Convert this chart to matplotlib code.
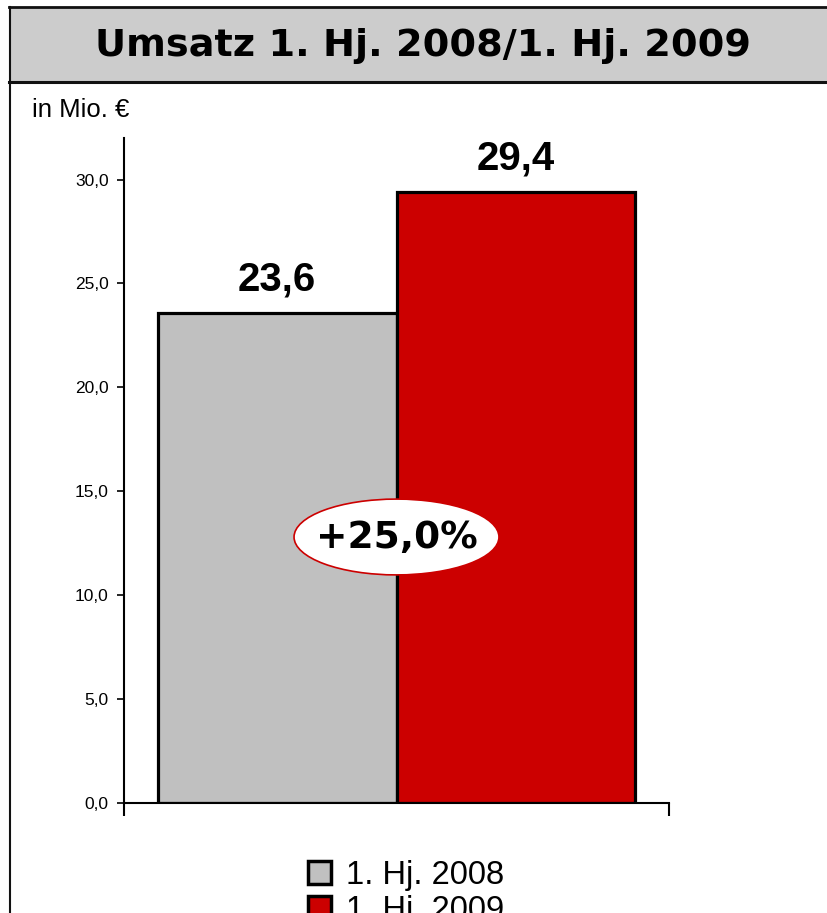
import matplotlib
matplotlib.use('Agg')
import matplotlib.pyplot as plt
from matplotlib.patches import Rectangle, Ellipse
from matplotlib.lines import Line2D
from matplotlib.ticker import FuncFormatter

plt.rcParams['font.family'] = ['Liberation Sans', 'DejaVu Sans']

# data
periods = ['1. Hj. 2008', '1. Hj. 2009']
umsatz = [23.6, 29.4]
colors = ['#C0C0C0', '#CC0000']
yticks = [0, 5, 10, 15, 20, 25, 30]
title = 'Umsatz 1. Hj. 2008/1. Hj. 2009'
unit = 'in Mio. €'
growth = '+25,0%'

W, H = 827, 913
fig = plt.figure(figsize=(W / 100, H / 100), dpi=100)

def fx(px):
    return px / W

def fy(py):
    return 1 - py / H

# title box and frame
fig.patches.append(Rectangle((fx(9), fy(82)), fx(830) - fx(9), fy(7) - fy(82),
                             transform=fig.transFigure, facecolor='#CCCCCC',
                             edgecolor='none', zorder=0))
for y0, lw in [(7, 2.0), (82, 2.2)]:
    fig.lines.append(Line2D([fx(9), 1.0], [fy(y0), fy(y0)], transform=fig.transFigure,
                            color='#111111', linewidth=lw))
fig.lines.append(Line2D([fx(10), fx(10)], [fy(7), 0], transform=fig.transFigure,
                        color='#111111', linewidth=1.5))
fig.text(fx(423), fy(46), title, ha='center', va='center', fontsize=27.5,
         fontweight='bold', family='DejaVu Sans')
fig.text(fx(32), fy(110), unit, ha='left', va='center', fontsize=18.5)

ax = fig.add_axes([fx(124), fy(803), fx(669) - fx(124), fy(138) - fy(803)])
xs = [-0.219, 0.219]
bars = ax.bar(xs, umsatz, width=0.438, color=colors, edgecolor='black',
              linewidth=2.3, zorder=2)
for x, v in zip(xs, umsatz):
    ax.annotate(f'{v:.1f}'.replace('.', ','), (x, v), xytext=(0, 24),
                textcoords='offset points', ha='center', va='center',
                fontsize=29, fontweight='bold')

ax.set_xlim(-0.5, 0.5)
ax.set_ylim(0, 32)
ax.set_yticks(yticks)
ax.yaxis.set_major_formatter(FuncFormatter(lambda v, p: f'{v:.1f}'.replace('.', ',')))
ax.tick_params(axis='y', direction='out', length=5, width=1.2, labelsize=12.5, pad=6)
ax.set_xticks([-0.5, 0.5])
ax.set_xticklabels([])
ax.tick_params(axis='x', direction='out', length=9, width=1.5)
for s in ['top', 'right']:
    ax.spines[s].set_visible(False)
ax.spines['left'].set_linewidth(1.5)
ax.spines['bottom'].set_linewidth(1.5)

ell = Ellipse((0.5, 0.4), 0.376, 0.114, transform=ax.transAxes, facecolor='white',
              edgecolor='#CC0000', linewidth=1.2, zorder=3)
ax.add_patch(ell)
ax.text(0.5, 0.398, growth, transform=ax.transAxes, ha='center', va='center',
        fontsize=27, fontweight='bold', family='DejaVu Sans', zorder=4)

handles = [Rectangle((0, 0), 1, 1, facecolor=c, edgecolor='black', linewidth=2.5)
           for c in colors]
fig.legend(handles, periods, loc='upper center', bbox_to_anchor=(fx(406), fy(844)),
           frameon=False, fontsize=23.5, handlelength=0.7, handleheight=0.7,
           handletextpad=0.45, labelspacing=0.12, borderpad=0)

fig.savefig('out.png', dpi=100)
